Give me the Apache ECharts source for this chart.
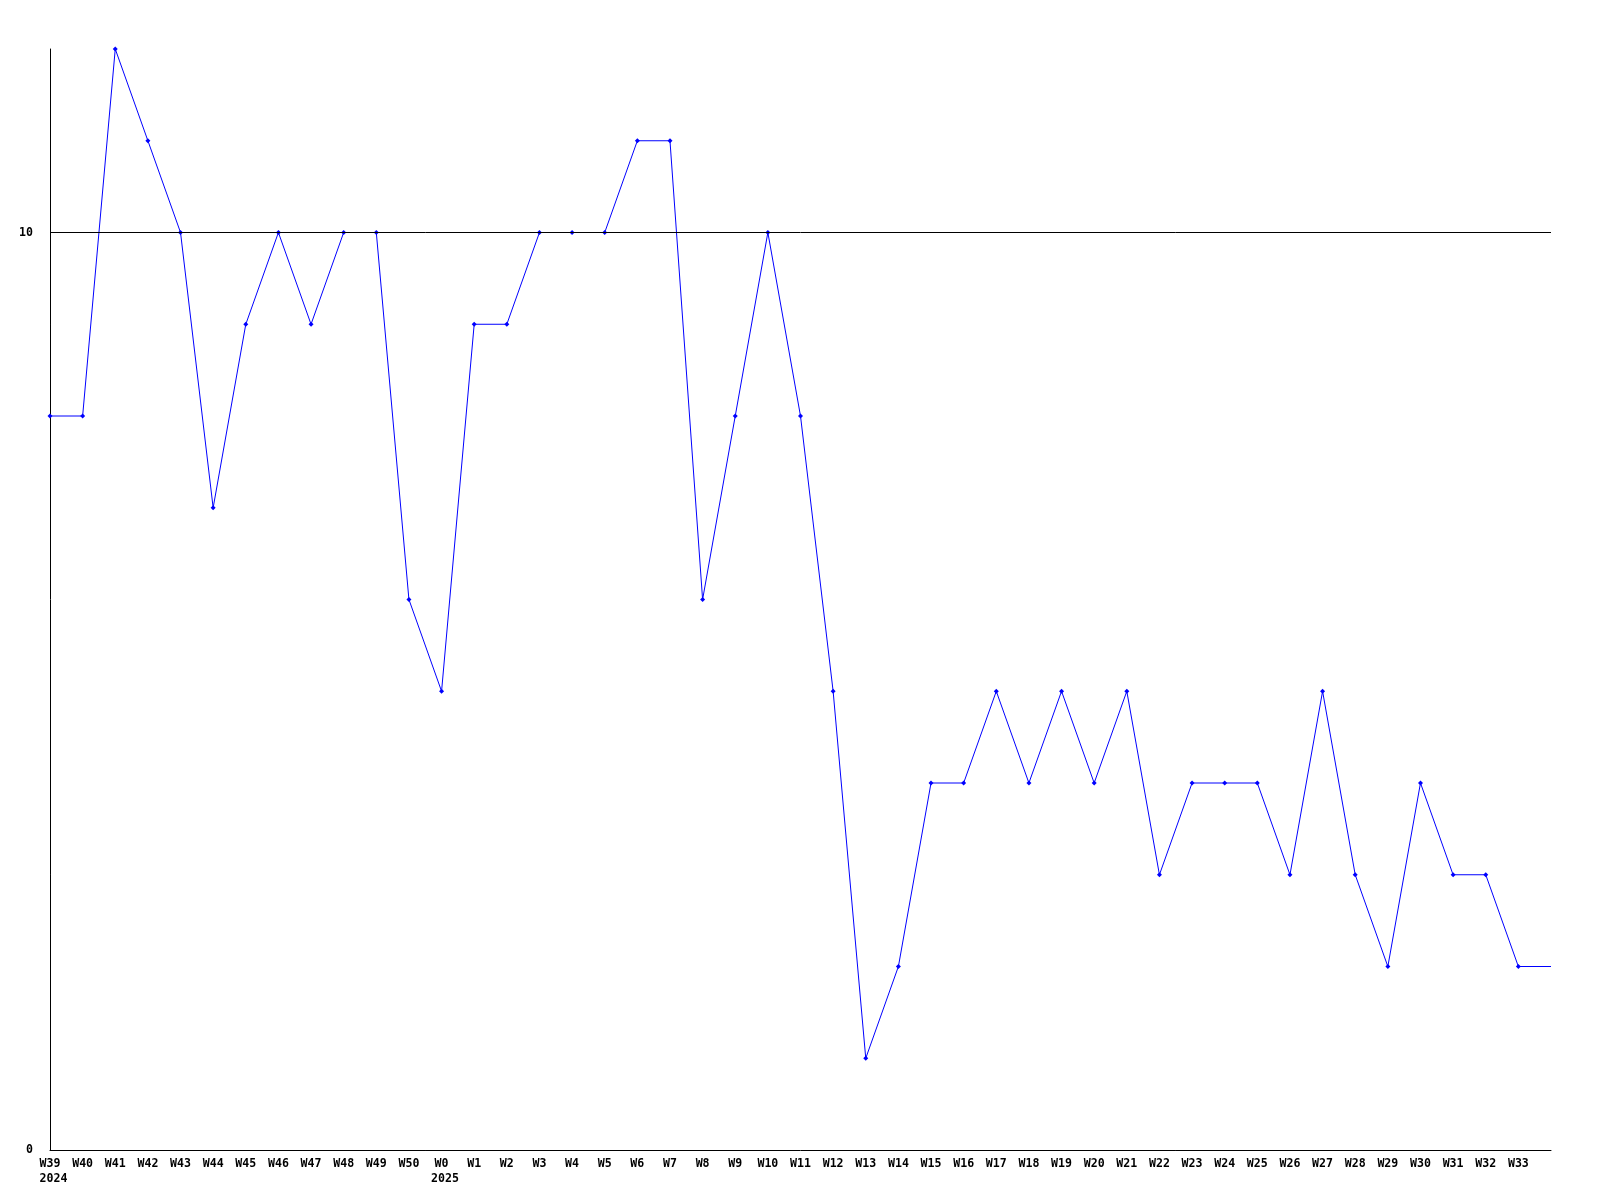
<!DOCTYPE html>
<html><head><meta charset="utf-8">
<script src="https://cdn.jsdelivr.net/npm/echarts@6/dist/echarts.min.js"></script>
<style>html,body{margin:0;padding:0;background:#fff}#c{width:1600px;height:1200px}</style>
</head><body><div id="c"></div>
<script>
const weeks = ['W39','W40','W41','W42','W43','W44','W45','W46','W47','W48','W49','W50',
 'W0','W1','W2','W3','W4','W5','W6','W7','W8','W9','W10','W11','W12','W13','W14','W15','W16',
 'W17','W18','W19','W20','W21','W22','W23','W24','W25','W26','W27','W28','W29','W30','W31','W32','W33','W34'];
const yearLabels = {0:'2024', 12:'2025'};
const hiddenLabelIdx = [46];
const values = [8,8,12,11,10,7,9,10,9,10,10,6,
 5,9,9,10,10,10,11,11,6,8,10,8,5,1,2,4,4,
 5,4,5,4,5,3,4,4,4,3,5,3,2,4,3,3,2,2];
const yTicks = [0,10];
const refLineValue = 10;

const chart = echarts.init(document.getElementById('c'), null, {renderer:'canvas'});
const font = {fontFamily:'DejaVu Sans Mono', fontWeight:'bold', fontSize:11.6, color:'#000'};
chart.setOption({
  animation:false,
  backgroundColor:'#fff',
  grid:{left:50,right:49,top:49,bottom:50,containLabel:false},
  xAxis:{
    type:'category', data:weeks, boundaryGap:false,
    axisLine:{lineStyle:{color:'#000',width:1}},
    axisTick:{show:false},
    splitLine:{show:false},
    axisLabel:{
      interval:0, margin:6, ...font,
      formatter:(v,i)=>{
        if (hiddenLabelIdx.includes(i)) return '';
        if (yearLabels[i]) return '{w|'+v+'}\n{y|'+yearLabels[i]+'}';
        return '{w|'+v+'}';
      },
      rich:{
        w:{...font, lineHeight:15},
        y:{...font, lineHeight:15, padding:[0,0,0,7]}
      }
    }
  },
  yAxis:{
    type:'value', min:0, max:12, interval:10,
    axisLine:{show:true, lineStyle:{color:'#000',width:1}},
    axisTick:{show:false},
    splitLine:{show:false},
    axisLabel:{margin:17, showMaxLabel:false, ...font,
      formatter:v=> yTicks.includes(v) ? String(v) : ''}
  },
  series:[{
    type:'line', z:1,
    data: values.map((v,i)=> hiddenLabelIdx.includes(i) ? {value:v, symbol:'none'} : v),
    symbol:'diamond', symbolSize:5, showAllSymbol:true,
    lineStyle:{color:'#0000ff', width:1},
    itemStyle:{color:'#0000ff'}
  },{
    type:'line', z:5, data:[], symbol:'none',
    markLine:{silent:true, symbol:'none', label:{show:false},
      lineStyle:{color:'#000', width:1, type:'solid'},
      data:[{yAxis:refLineValue}]}
  }]
});
</script></body></html>
